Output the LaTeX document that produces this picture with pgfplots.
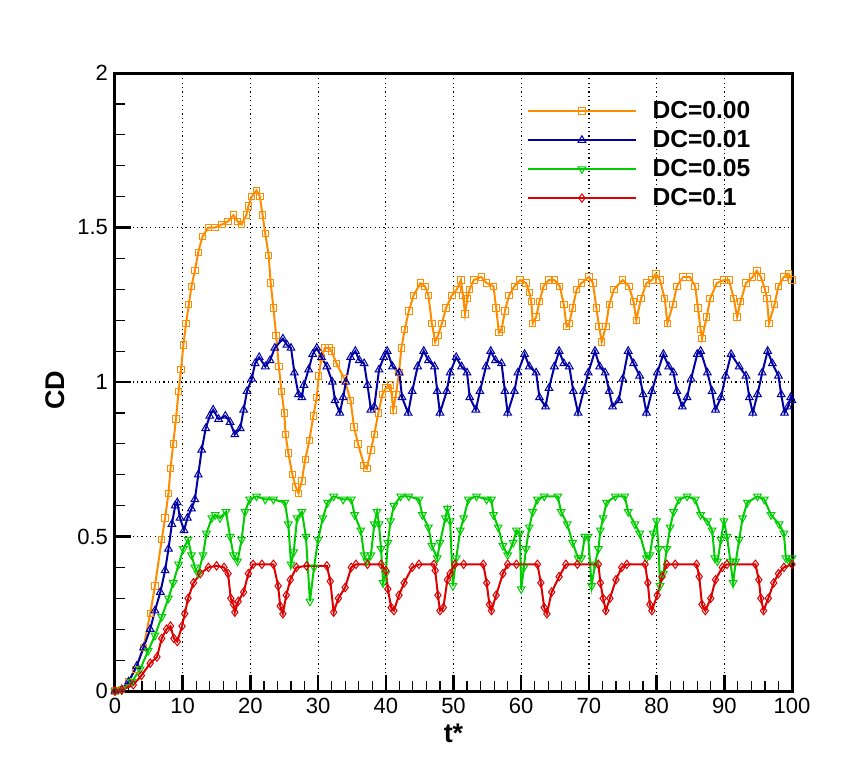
\documentclass[border=0pt]{standalone}
\usepackage{pgfplots}
\pgfplotsset{compat=1.18}
\usepackage{fontspec}
\setmainfont{Liberation Sans}
\definecolor{corange}{RGB}{255,140,0}
\definecolor{cblue}{RGB}{0,0,165}
\definecolor{cgreen}{RGB}{0,205,0}
\definecolor{cred}{RGB}{220,0,0}
\begin{document}
\begin{tikzpicture}
\path (-57.5pt,-33pt) rectangle (376.5pt,345.5pt);
\begin{axis}[
  scale only axis, width=338.5pt, height=309pt,
  at={(0pt,0pt)}, anchor=south west,
  xmin=0, xmax=100, ymin=0, ymax=2,
  xtick={0,10,...,100}, ytick={0,0.5,1,1.5,2},
  minor x tick num=4, minor y tick num=4,
  tick align=inside, xtick pos=left, ytick pos=left,
  major tick length=8pt, minor tick length=5pt,
  every major tick/.append style={black, line width=1.2pt},
  every minor tick/.append style={black, line width=0.6pt},
  axis line style={line width=1.5pt},
  grid=major,
  major grid style={black, line width=0.6pt, dash pattern=on 0.6pt off 1.6pt},
  /pgf/number format/assume math mode=true,
  tick label style={font=\fontsize{11}{13}\selectfont},
  xlabel={\textbf{t*}}, ylabel={\textbf{CD}},
  label style={font=\fontsize{13.5}{16}\selectfont},
  xlabel style={at={(rel axis cs:0.5,0)}, anchor=center, yshift=-21pt},
  ylabel style={at={(rel axis cs:0,0.487)}, anchor=center, yshift=30pt},
  legend style={draw=none, fill=none, at={(rel axis cs:0.599,0.965)}, anchor=north west,
    font=\bfseries\fontsize{12.3}{14}\selectfont, row sep=2.4pt, column sep=6.8pt,
    nodes={inner sep=1pt}},
  legend cell align=left,
  legend image code/.code={\draw[mark repeat=2,mark phase=2] plot coordinates {(0pt,0pt) (27pt,0pt) (54pt,0pt)};},
  every axis plot/.append style={line width=1pt},
]
\addplot[corange, mark=square, mark size=1.6pt, mark options={line width=0.5pt}] coordinates {
(0,0) (1,0.005) (2,0.03) (3,0.07) (4.2,0.14) (5.2,0.25) (5.9,0.34) (6.9,0.49) (7.4,0.56) (7.9,0.64) (8.2,0.72) (8.6,0.80) (9.0,0.88) (9.4,0.97) (9.75,1.04) (10.1,1.12) (10.5,1.19) (10.9,1.25) (11.3,1.31) (11.8,1.36) (12.3,1.42) (12.9,1.47) (13.8,1.50) (14.8,1.50) (15.8,1.51) (16.7,1.52) (17.5,1.54) (18.1,1.52) (18.7,1.51) (19.4,1.54) (19.7,1.57) (20.2,1.60) (20.9,1.62) (21.4,1.60) (21.8,1.54) (22.2,1.48) (22.7,1.41) (23.0,1.32) (23.4,1.24) (23.8,1.15) (24.2,1.05) (24.6,0.97) (25.0,0.90) (25.2,0.83) (25.6,0.77) (26.2,0.70) (26.7,0.66) (27.1,0.64) (27.6,0.68) (28.1,0.75) (28.7,0.81) (29.3,0.89) (29.8,0.95) (30.1,1.02) (30.5,1.08) (31.0,1.11) (31.6,1.11) (32.0,1.10) (32.7,1.06) (33.9,1.01) (34.8,0.94) (35.3,0.855) (35.9,0.80) (36.8,0.73) (37.2,0.72) (37.8,0.78) (38.3,0.83) (38.9,0.90) (39.5,0.96) (40,0.98) (40.7,0.99) (41.1,0.91) (41.5,0.96) (41.95,1.03) (42.3,1.11) (42.8,1.17) (43.4,1.23) (44.1,1.28) (45.1,1.32) (45.8,1.31) (46.3,1.28) (46.8,1.19) (47.3,1.13) (47.7,1.15) (48.3,1.19) (48.9,1.24) (49.75,1.28) (50.5,1.30) (51.1,1.33) (51.4,1.28) (51.7,1.22) (52.05,1.27) (52.4,1.30) (53.0,1.33) (54.1,1.34) (54.9,1.32) (55.9,1.31) (56.3,1.24) (56.7,1.16) (57.1,1.17) (57.6,1.23) (58.2,1.28) (59.0,1.31) (59.85,1.33) (60.7,1.32) (61.2,1.29) (61.5,1.26) (61.7,1.19) (62.2,1.21) (62.7,1.26) (63.3,1.31) (64.1,1.33) (64.9,1.33) (65.7,1.31) (66.3,1.25) (66.7,1.18) (67.1,1.19) (67.6,1.24) (68.2,1.30) (68.9,1.32) (70,1.34) (70.6,1.32) (71.1,1.24) (71.5,1.18) (71.9,1.13) (72.5,1.18) (73.0,1.25) (73.7,1.30) (75.0,1.33) (75.9,1.31) (76.6,1.26) (77.0,1.20) (77.7,1.27) (78.5,1.32) (79.3,1.33) (79.9,1.35) (80.5,1.33) (81.2,1.27) (81.6,1.19) (82.4,1.25) (83.0,1.31) (83.9,1.34) (84.9,1.34) (85.7,1.31) (86.1,1.24) (86.5,1.17) (86.7,1.14) (87.4,1.21) (87.9,1.27) (88.9,1.32) (89.95,1.33) (90.7,1.33) (91.4,1.27) (91.9,1.21) (92.4,1.26) (93.2,1.32) (94.2,1.34) (94.8,1.36) (95.4,1.34) (96.0,1.30) (96.3,1.27) (96.6,1.19) (97.4,1.25) (98.0,1.31) (98.8,1.34) (99.5,1.35) (100,1.33)
};
\addlegendentry{DC=0.00}
\addplot[cblue, mark=triangle, mark size=2.2pt, mark options={line width=0.5pt}] coordinates {
(0,0) (1,0.005) (2.0,0.03) (3.2,0.08) (4.2,0.14) (5.2,0.20) (5.9,0.26) (6.7,0.32) (7.4,0.39) (7.9,0.46) (8.4,0.54) (8.9,0.60) (9.2,0.61) (9.6,0.56) (10.2,0.52) (10.7,0.56) (11.3,0.59) (11.8,0.62) (12.3,0.70) (12.8,0.78) (13.4,0.85) (14.0,0.89) (14.5,0.91) (15.3,0.88) (16.3,0.89) (17.0,0.87) (17.7,0.83) (18.5,0.85) (19.0,0.91) (19.5,0.97) (20.2,1.01) (20.7,1.06) (21.3,1.08) (22.2,1.05) (22.9,1.07) (23.6,1.11) (24.8,1.14) (25.4,1.12) (26.0,1.11) (26.5,1.03) (27.1,0.96) (27.6,0.95) (27.9,0.99) (28.6,1.04) (29.2,1.09) (29.8,1.11) (30.5,1.08) (31.3,1.05) (32.1,1.00) (32.5,0.94) (33.2,0.90) (33.7,0.95) (34.1,1.00) (34.8,1.08) (35.5,1.10) (36.1,1.07) (36.8,1.06) (37.3,0.99) (37.8,0.91) (38.3,0.92) (39.0,1.04) (39.7,1.08) (40.2,1.10) (41.0,1.05) (42.0,1.03) (42.4,0.95) (43.3,0.90) (43.9,0.97) (44.7,1.05) (45.6,1.10) (46.3,1.07) (47.2,1.05) (47.6,0.97) (48.0,0.90) (49.0,0.97) (49.5,1.03) (50.4,1.08) (51.2,1.05) (52.0,1.03) (52.4,0.95) (53.3,0.91) (53.9,0.97) (54.8,1.05) (55.5,1.10) (56.2,1.07) (57.1,1.06) (57.6,0.97) (58.0,0.90) (59.0,0.97) (59.5,1.03) (60.5,1.09) (61.2,1.05) (62.2,1.03) (62.7,0.95) (63.6,0.92) (64.1,0.98) (64.9,1.05) (65.6,1.10) (66.3,1.06) (67.1,1.05) (67.7,0.97) (68.4,0.90) (69.2,0.97) (69.9,1.03) (70.9,1.10) (71.6,1.05) (72.4,1.03) (73.0,0.97) (73.5,0.92) (74.4,0.94) (75.0,1.01) (75.8,1.10) (76.6,1.06) (77.5,1.02) (78.0,0.96) (78.5,0.90) (79.3,0.97) (80.1,1.03) (81.0,1.09) (81.8,1.05) (82.5,1.03) (83.0,0.97) (83.8,0.92) (84.5,0.95) (85.1,1.01) (86.0,1.09) (86.5,1.10) (87.5,1.03) (88.2,0.97) (88.7,0.91) (89.5,0.95) (90.2,1.02) (91.0,1.09) (92.2,1.05) (93.2,1.02) (93.7,0.95) (94.2,0.90) (94.9,0.96) (95.6,1.03) (96.4,1.10) (97.1,1.06) (98.0,1.02) (98.4,0.96) (98.9,0.90) (99.4,0.92) (99.8,0.95) (100,0.94)
};
\addlegendentry{DC=0.01}
\addplot[cgreen, mark=triangle, mark size=2.2pt, mark options={line width=0.5pt, rotate=180}] coordinates {
(0,0) (1,0.003) (2.5,0.03) (3.7,0.07) (4.9,0.13) (5.9,0.18) (6.9,0.24) (7.9,0.30) (8.6,0.35) (9.4,0.41) (10.1,0.46) (10.8,0.49) (11.3,0.44) (11.8,0.40) (12.3,0.38) (13.0,0.44) (13.5,0.51) (14.3,0.56) (14.8,0.57) (15.5,0.56) (16.4,0.58) (17.0,0.50) (17.5,0.44) (18.1,0.42) (18.7,0.49) (19.2,0.58) (19.9,0.62) (20.9,0.63) (22.2,0.62) (23.4,0.62) (25.1,0.61) (25.6,0.54) (26.0,0.41) (26.4,0.45) (26.9,0.56) (27.6,0.58) (28.2,0.50) (28.8,0.29) (29.4,0.40) (30.0,0.49) (30.7,0.56) (31.4,0.61) (32.3,0.63) (33.7,0.62) (34.9,0.62) (35.4,0.57) (36.3,0.52) (36.8,0.44) (37.2,0.42) (37.8,0.44) (38.3,0.54) (38.7,0.58) (39.0,0.54) (39.3,0.46) (39.6,0.35) (40,0.38) (40.3,0.48) (40.7,0.55) (41.2,0.60) (42.2,0.63) (43.4,0.63) (44.9,0.62) (45.4,0.57) (46.3,0.53) (46.8,0.47) (47.6,0.43) (48.0,0.48) (48.8,0.56) (49.1,0.59) (49.5,0.55) (49.9,0.34) (50.4,0.43) (51.0,0.52) (51.5,0.56) (52.2,0.62) (53.4,0.63) (54.9,0.62) (55.6,0.62) (55.9,0.57) (56.6,0.53) (57.3,0.47) (58.0,0.44) (58.8,0.48) (59.3,0.52) (59.8,0.51) (60.0,0.33) (60.4,0.40) (60.7,0.46) (61.2,0.53) (61.7,0.58) (62.4,0.62) (63.4,0.63) (65.4,0.63) (65.9,0.58) (66.8,0.54) (67.6,0.48) (68.4,0.43) (68.9,0.43) (69.4,0.50) (69.9,0.50) (70.4,0.34) (70.9,0.41) (71.4,0.46) (71.7,0.52) (72.1,0.56) (72.6,0.61) (73.9,0.63) (75.3,0.63) (75.8,0.58) (76.8,0.54) (77.5,0.51) (78.5,0.43) (79.0,0.44) (79.5,0.51) (80.0,0.55) (80.3,0.46) (80.5,0.34) (81.0,0.38) (81.5,0.46) (82.0,0.53) (82.5,0.58) (83.3,0.62) (84.5,0.63) (85.7,0.62) (86.5,0.57) (87.5,0.55) (88.2,0.52) (88.6,0.43) (89.0,0.42) (89.5,0.49) (89.95,0.55) (90.4,0.50) (90.9,0.42) (91.3,0.35) (91.7,0.42) (92.2,0.49) (92.7,0.56) (93.4,0.61) (94.9,0.63) (95.9,0.62) (96.9,0.57) (98.1,0.54) (98.8,0.51) (99.1,0.43) (99.6,0.42) (100,0.43)
};
\addlegendentry{DC=0.05}
\addplot[cred, mark=diamond, mark size=2.1pt, mark options={line width=0.5pt}] coordinates {
(0,0) (1,0.003) (2.7,0.02) (3.9,0.05) (5.2,0.09) (6.2,0.11) (6.9,0.17) (7.6,0.20) (8.2,0.21) (8.7,0.17) (9.2,0.16) (9.9,0.21) (10.3,0.25) (10.8,0.30) (11.6,0.35) (12.6,0.38) (13.8,0.40) (15.0,0.405) (16.1,0.40) (16.7,0.38) (17.1,0.30) (17.5,0.28) (17.7,0.255) (18.2,0.29) (19.0,0.32) (19.7,0.38) (20.4,0.41) (21.7,0.41) (23.4,0.41) (24.1,0.34) (24.4,0.275) (24.8,0.25) (25.3,0.31) (25.9,0.36) (26.8,0.40) (28.3,0.405) (31.3,0.405) (31.8,0.355) (32.3,0.255) (33.0,0.30) (34.0,0.335) (34.9,0.40) (35.6,0.41) (37.3,0.41) (39.3,0.41) (40,0.39) (40.3,0.33) (40.8,0.27) (41.2,0.26) (41.95,0.31) (42.7,0.35) (43.9,0.40) (44.9,0.41) (47.1,0.41) (47.3,0.39) (47.7,0.31) (48.0,0.26) (48.5,0.27) (49.1,0.36) (49.5,0.38) (50.2,0.41) (51.5,0.41) (54.4,0.41) (54.9,0.35) (55.3,0.28) (55.6,0.26) (56.3,0.31) (57.3,0.38) (58.0,0.41) (59.3,0.41) (62.4,0.41) (62.9,0.35) (63.4,0.27) (63.8,0.25) (64.5,0.32) (65.6,0.37) (66.6,0.41) (68.3,0.41) (71.4,0.41) (71.7,0.35) (72.1,0.30) (72.5,0.26) (73.1,0.30) (74.0,0.36) (74.85,0.40) (75.6,0.41) (78.3,0.41) (78.7,0.35) (79.0,0.28) (79.3,0.26) (80.1,0.31) (80.8,0.37) (81.5,0.41) (82.75,0.41) (85.9,0.41) (86.3,0.37) (86.7,0.28) (87.2,0.26) (88.0,0.30) (88.7,0.36) (89.7,0.40) (90.4,0.41) (94.6,0.41) (95.1,0.36) (95.4,0.30) (95.8,0.26) (96.5,0.30) (97.3,0.35) (98.0,0.38) (98.8,0.40) (100,0.41)
};
\addlegendentry{DC=0.1}
\end{axis}
\end{tikzpicture}
\end{document}
